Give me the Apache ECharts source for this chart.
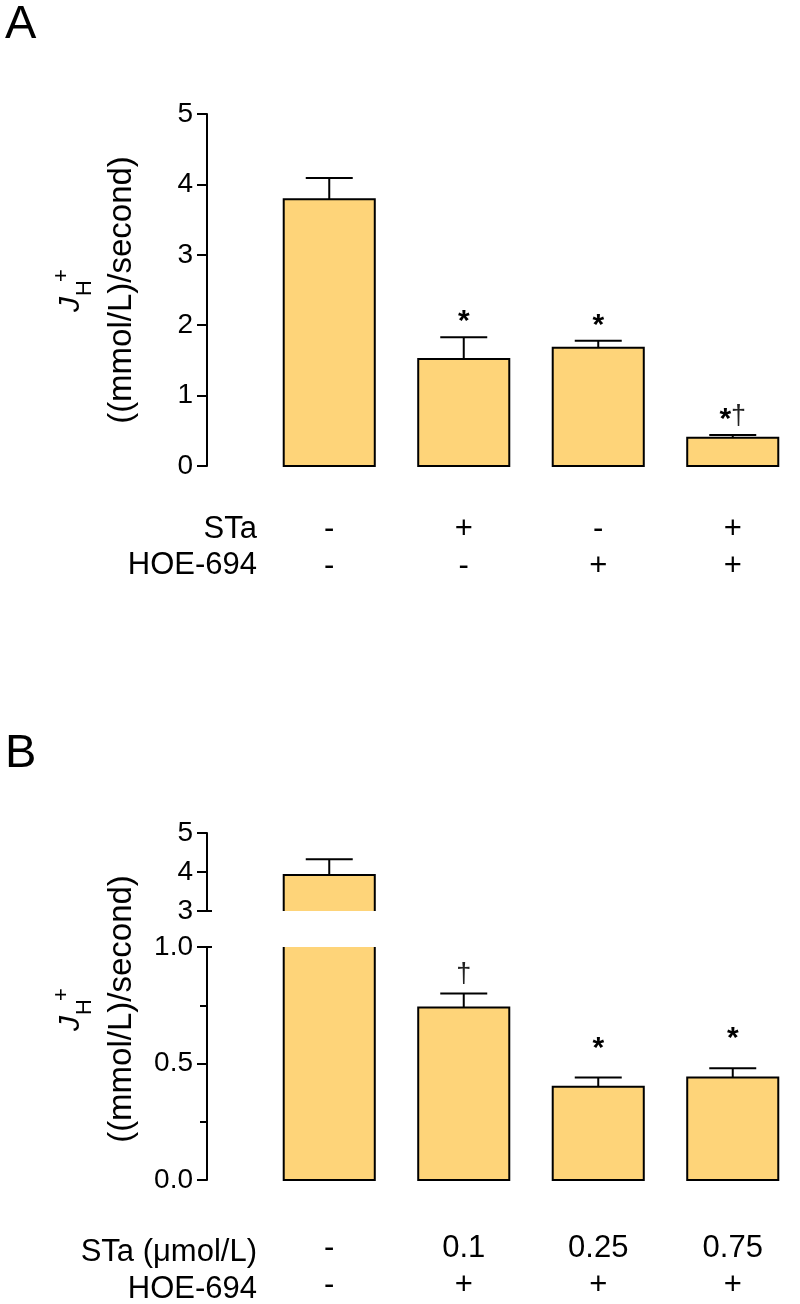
<!DOCTYPE html>
<html><head><meta charset="utf-8">
<script src="https://cdn.jsdelivr.net/npm/echarts@6.0.0/dist/echarts.min.js"></script>
<style>html,body{margin:0;padding:0;background:#fff}#chart{width:800px;height:1304px}</style>
</head><body><div id="chart"></div>
<script>
// ---------------- data ----------------
const categoriesA = ['Control', 'STa', 'HOE-694', 'STa + HOE-694'];
const staRowA = ['-', '+', '-', '+'];
const hoeRowA = ['-', '-', '+', '+'];
const meanA = [3.79, 1.52, 1.68, 0.40];
const semA = [0.30, 0.31, 0.10, 0.04];
const markA = ['', '*', '*', '*†'];
const rowHeadA = ['STa', 'HOE-694'];
const yTicksA = [0, 1, 2, 3, 4, 5];

const categoriesB = ['Control', 'STa 0.1 + HOE', 'STa 0.25 + HOE', 'STa 0.75 + HOE'];
const staRowB = ['-', '0.1', '0.25', '0.75'];
const hoeRowB = ['-', '+', '+', '+'];
const meanB = [3.92, 0.74, 0.40, 0.44];
const semB = [0.41, 0.06, 0.04, 0.04];
const markB = ['', '†', '*', '*'];
const rowHeadB = ['STa (μmol/L)', 'HOE-694'];
const yTicksBUpper = [3, 4, 5];
const yTicksBLower = [0, 0.5, 1.0];

const yTitleMain = 'J';
const yTitleSub = 'H';
const yTitleSup = '+';
const yTitleUnit = '((mmol/L)/second)';
const panelLetters = ['A', 'B'];

// ---------------- style ----------------
const FONT = '"Liberation Sans", Arial, sans-serif';
const FILL = '#FED479';
const INK = '#000';
const BAR_RATIO = 0.677;
const CAP_RATIO = 0.516;
const AXIS_OFFSET = 55;

function makeRender(marks, markGap, daggerGap, daggerRaise, breakEdge) {
  return function (params, api) {
    const i = api.value(0), v = api.value(1), e = api.value(2);
    const cs = params.coordSys;
    const band = api.size([1, 0])[0];
    const w = band * BAR_RATIO;
    const cw = w * CAP_RATIO;
    const cx = api.coord([i, v])[0];
    const xl = cx - w / 2, xr = cx + w / 2;
    const gTop = cs.y, gBot = cs.y + cs.height;
    const rawTop = api.coord([i, v])[1];
    const rawBot = api.coord([i, 0])[1];
    const ls = { stroke: INK, lineWidth: 2, fill: null, lineJoin: 'miter' };
    const children = [];
    if (breakEdge && params.dataIndex === 0) {
      const ax = cs.x - AXIS_OFFSET;
      const y = breakEdge === 'bottom' ? gBot : gTop;
      children.push({ type: 'line', shape: { x1: ax - 1, y1: y, x2: ax + 5, y2: y }, style: ls });
    }
    if (rawTop > gBot + 0.5) {
      return { type: 'group', children };
    }
    const topClip = rawTop < gTop - 0.5;
    const botClip = rawBot > gBot + 0.5;
    const yt = Math.max(rawTop, gTop), yb = Math.min(rawBot, gBot);
    children.push({ type: 'rect', shape: { x: xl, y: yt, width: w, height: yb - yt }, style: { fill: FILL } });
    if (!topClip && !botClip) {
      children.push({ type: 'rect', shape: { x: xl, y: yt, width: w, height: yb - yt }, style: ls });
    } else if (botClip && !topClip) {
      children.push({ type: 'polyline', shape: { points: [[xl, yb], [xl, yt], [xr, yt], [xr, yb]] }, style: ls });
    } else if (topClip && !botClip) {
      children.push({ type: 'polyline', shape: { points: [[xl, yt], [xl, yb], [xr, yb], [xr, yt]] }, style: ls });
    } else {
      children.push({ type: 'line', shape: { x1: xl, y1: yt, x2: xl, y2: yb }, style: ls });
      children.push({ type: 'line', shape: { x1: xr, y1: yt, x2: xr, y2: yb }, style: ls });
    }
    if (!topClip) {
      const eTop = api.coord([i, v + e])[1];
      children.push({ type: 'line', shape: { x1: cx, y1: rawTop, x2: cx, y2: eTop }, style: ls });
      children.push({ type: 'line', shape: { x1: cx - cw / 2, y1: eTop, x2: cx + cw / 2, y2: eTop }, style: ls });
      const m = marks[params.dataIndex];
      if (m) {
        const rich = m.split('').map(c => c === '*' ? '{a|*}' : '{d|' + c + '}').join('');
        const gap = m.indexOf('*') >= 0 ? markGap : daggerGap;
        children.push({
          type: 'text',
          style: {
            text: rich, x: cx, y: eTop - gap, align: 'center', verticalAlign: 'bottom',
            fill: INK, font: '28px ' + FONT,
            rich: {
              a: { fontSize: 30, fontWeight: 'bold', fontFamily: FONT, fill: INK, lineHeight: 30 },
              d: { fontSize: 27, fontFamily: FONT, fill: '#222', lineHeight: 30, padding: [0, 0, daggerRaise, 0] }
            }
          }
        });
      }
    }
    return { type: 'group', children };
  };
}

function yAxisCfg(gridIndex, min, max, interval, fmt, minor) {
  return {
    type: 'value', gridIndex, min, max, interval, offset: AXIS_OFFSET,
    axisLine: { show: true, lineStyle: { color: INK, width: 2 } },
    axisTick: { show: true, length: 10, lineStyle: { color: INK, width: 2 } },
    minorTick: { show: !!minor, splitNumber: 2, length: 7, lineStyle: { color: INK, width: 2 } },
    splitLine: { show: false },
    axisLabel: { color: INK, fontSize: 28, fontFamily: FONT, margin: 14, formatter: fmt }
  };
}

function xAxisCfg(gridIndex, cats, row1, row2, showLabels, margin) {
  return {
    type: 'category', gridIndex, data: cats,
    axisLine: { show: false }, axisTick: { show: false }, splitLine: { show: false },
    axisLabel: {
      show: showLabels, interval: 0, margin, color: INK, fontSize: 31, fontFamily: FONT, lineHeight: 37,
      formatter: (val, idx) => row1[idx] + '\n' + row2[idx]
    }
  };
}

function yTitle(cx, cy) {
  return {
    type: 'group', x: cx, y: cy, rotation: Math.PI / 2,
    children: [
      { type: 'text', x: -22, y: -29, style: { text: yTitleMain, font: 'italic 30px ' + FONT, fill: INK, align: 'left', verticalAlign: 'middle' } },
      { type: 'text', x: -6, y: -15, style: { text: yTitleSub, font: '22px ' + FONT, fill: INK, align: 'left', verticalAlign: 'middle' } },
      { type: 'text', x: 8, y: -38, style: { text: yTitleSup, font: '22px ' + FONT, fill: INK, align: 'left', verticalAlign: 'middle' } },
      { type: 'text', x: 0, y: 22, style: { text: yTitleUnit, font: '33px ' + FONT, fill: INK, align: 'center', verticalAlign: 'middle' } }
    ]
  };
}

function rowHeads(heads, y1, y2) {
  return [
    { type: 'text', x: 257, y: y1, style: { text: heads[0], font: '31px ' + FONT, fill: INK, align: 'right', verticalAlign: 'middle' } },
    { type: 'text', x: 257, y: y2, style: { text: heads[1], font: '31px ' + FONT, fill: INK, align: 'right', verticalAlign: 'middle' } }
  ];
}

const chart = echarts.init(document.getElementById('chart'), null, { renderer: 'canvas' });
chart.setOption({
  backgroundColor: '#fff',
  animation: false,
  grid: [
    { left: 262, width: 538, top: 114, height: 352 },
    { left: 262, width: 538, top: 833, height: 78 },
    { left: 262, width: 538, top: 947, height: 236 }
  ],
  xAxis: [
    xAxisCfg(0, categoriesA, staRowA, hoeRowA, true, 45),
    xAxisCfg(1, categoriesB, staRowB, hoeRowB, false, 0),
    xAxisCfg(2, categoriesB, staRowB, hoeRowB, true, 50)
  ],
  yAxis: [
    yAxisCfg(0, yTicksA[0], yTicksA[yTicksA.length - 1], 1, v => String(v), false),
    yAxisCfg(1, yTicksBUpper[0], yTicksBUpper[yTicksBUpper.length - 1], 1, v => String(v), false),
    yAxisCfg(2, yTicksBLower[0], yTicksBLower[yTicksBLower.length - 1], 0.5, v => v.toFixed(1), true)
  ],
  series: [
    { type: 'custom', xAxisIndex: 0, yAxisIndex: 0, renderItem: makeRender(markA, 0, 0, 6, null),
      data: meanA.map((v, i) => [i, v, semA[i]]) },
    { type: 'custom', xAxisIndex: 1, yAxisIndex: 1, renderItem: makeRender(markB, 14, 4, 0, 'bottom'),
      data: meanB.map((v, i) => [i, v, semB[i]]) },
    { type: 'custom', xAxisIndex: 2, yAxisIndex: 2, renderItem: makeRender(markB, 14, 4, 0, 'top'),
      data: meanB.map((v, i) => [i, v, semB[i]]) }
  ],
  graphic: [
    { type: 'text', x: 5, y: 2, style: { text: panelLetters[0], font: '47px ' + FONT, fill: INK } },
    { type: 'text', x: 5, y: 731, style: { text: panelLetters[1], font: '47px ' + FONT, fill: INK } },
    yTitle(100, 290),
    yTitle(100, 1009),
    ...rowHeads(rowHeadA, 529, 565),
    ...rowHeads(rowHeadB, 1252, 1289)
  ]
});
</script></body></html>
